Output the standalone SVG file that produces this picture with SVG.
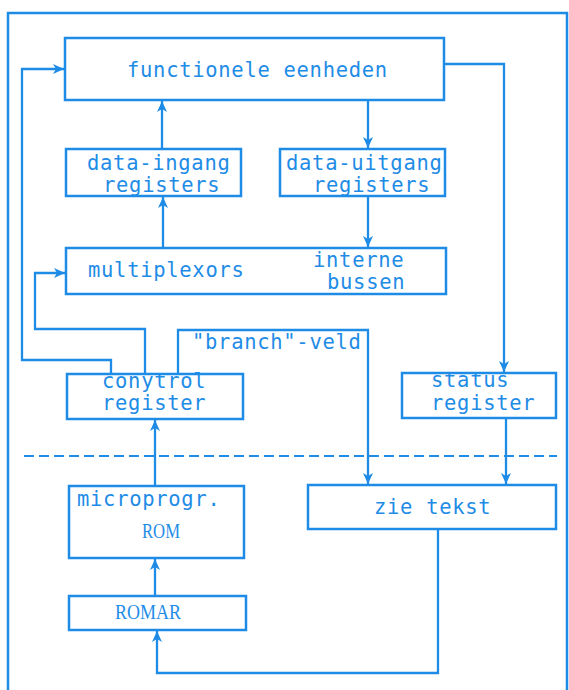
<svg xmlns="http://www.w3.org/2000/svg" width="569" height="690" viewBox="0 0 569 690">
<defs>
<style>
.b{fill:none;stroke:#1e8ce6;stroke-width:2.5}
.c{fill:none;stroke:#1e8ce6;stroke-width:2.3;marker-end:url(#ah)}
.t{fill:#1e8ce6;font-family:"DejaVu Sans Mono","Liberation Mono",monospace;font-size:20.5px;letter-spacing:0.7px}
.s{fill:#1e8ce6;font-family:"Liberation Serif",serif;font-size:22px}
</style>
<marker id="ah" viewBox="0 0 12 12" refX="11" refY="6" markerWidth="12" markerHeight="12" markerUnits="userSpaceOnUse" orient="auto">
<path d="M0,1 L11,6 L0,11 L3,6 Z" fill="#1e8ce6"/>
</marker>
</defs>
<rect width="569" height="690" fill="#fff"/>
<path class="b" d="M8,690 V13 H567 V690"/>
<line x1="24" y1="456" x2="557" y2="456" stroke="#1e8ce6" stroke-width="2" stroke-dasharray="10,5"/>
<g id="connectors">
<path class="c" d="M111,374 V360 H22 V69 H64"/>
<path class="c" d="M145,374 V329 H35 V273 H65"/>
<path class="c" d="M178,374 V330 H368 V484"/>
<path class="c" d="M444,64 H504 V372"/>
<path class="c" d="M368,100 V148"/>
<path class="c" d="M162,149 V101"/>
<path class="c" d="M163,248 V197"/>
<path class="c" d="M368,196 V247"/>
<path class="c" d="M155,486 V420"/>
<path class="c" d="M506,418 V484"/>
<path class="c" d="M155,596 V559"/>
<path class="c" d="M438,529 V673 H157 V631"/>
</g>
<g id="functionele">
<rect class="b" x="65" y="38" width="379" height="62"/>
<text class="t" x="127" y="77">functionele eenheden</text>
</g>
<g id="data-ingang">
<rect class="b" x="66" y="149" width="175" height="47"/>
<text class="t" x="87" y="170">data-ingang</text>
<text class="t" x="103" y="192">registers</text>
</g>
<g id="data-uitgang">
<rect class="b" x="280" y="149" width="165" height="47"/>
<text class="t" x="286" y="170">data-uitgang</text>
<text class="t" x="313" y="192">registers</text>
</g>
<g id="multiplexors">
<rect class="b" x="66" y="248" width="380" height="46"/>
<text class="t" x="88" y="277">multiplexors</text>
<text class="t" x="313" y="267">interne</text>
<text class="t" x="327" y="289">bussen</text>
</g>
<g id="control">
<rect class="b" x="67" y="374" width="176" height="45"/>
<text class="t" x="102" y="388">conytrol</text>
<text class="t" x="102" y="410">register</text>
</g>
<text class="t" x="192" y="349">"branch"-veld</text>
<g id="status">
<rect class="b" x="402" y="373" width="154" height="45"/>
<text class="t" x="431" y="387">status</text>
<text class="t" x="431" y="410">register</text>
</g>
<g id="zie">
<rect class="b" x="308" y="485" width="248" height="44"/>
<text class="t" x="374" y="514">zie tekst</text>
</g>
<g id="rom">
<rect class="b" x="69" y="486" width="175" height="72"/>
<text class="t" x="77" y="506">microprogr.</text>
<text class="s" x="142" y="538" textLength="38" lengthAdjust="spacingAndGlyphs">ROM</text>
</g>
<g id="romar">
<rect class="b" x="69" y="596" width="177" height="34"/>
<text class="s" x="115" y="619" textLength="66" lengthAdjust="spacingAndGlyphs">ROMAR</text>
</g>
</svg>
